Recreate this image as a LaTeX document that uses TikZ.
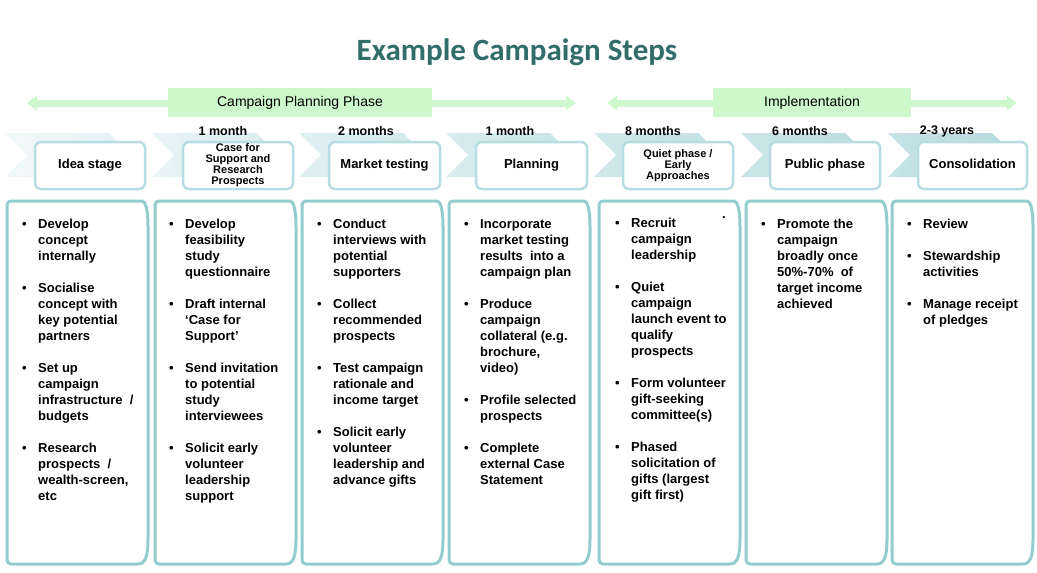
\documentclass[tikz,border=0pt]{standalone}
\usepackage{fontspec}
\setmainfont{Liberation Sans}
\newfontfamily\titlefont{Carlito}
\usetikzlibrary{arrows.meta}
\definecolor{titlec}{RGB}{49,110,106}
\definecolor{panelc}{RGB}{147,204,204}
\definecolor{boxc}{RGB}{183,221,226}
\definecolor{chev}{RGB}{176,216,220}
\definecolor{phasec}{RGB}{204,248,204}
\tikzset{
  stepbox/.style={draw=boxc, line width=2.5pt, rounded corners=6pt, fill=white,
    minimum width=110pt, minimum height=47pt, align=center, inner sep=1pt,
    text height=9.5pt, text depth=2.8pt,
    font=\bfseries\fontsize{13}{15}\selectfont},
  smallstep/.style={stepbox, text height={}, text depth={},
    font=\bfseries\fontsize{11}{11}\selectfont},
  dur/.style={font=\bfseries\fontsize{12.5}{14}\selectfont, inner sep=0pt},
  panel/.style={draw=panelc, line width=3pt, fill=white},
  paneltext/.style={anchor=north west, inner sep=0pt, align=left,
    font=\bfseries\fontsize{13}{16}\selectfont},
  phasearrow/.style={draw=phasec, line width=7pt,
    arrows={Triangle[length=10pt,width=14pt]-Triangle[length=10pt,width=14pt]}},
  phaselabel/.style={fill=phasec, minimum height=29pt, inner sep=0pt,
    font=\fontsize{14}{16}\selectfont},
}
\newcommand{\bl}{\textbullet}
\begin{document}
\begin{tikzpicture}[x=1pt,y=-1pt]
\useasboundingbox (0,0) rectangle (1037,573);
\fill[white] (0,0) rectangle (1037,573);

% title
\node[font=\titlefont\bfseries\fontsize{31}{34}\selectfont, text=titlec] (title) at (517,52) {Example Campaign Steps};

% phase arrows
\coordinate (p1l) at (27,103);
\coordinate (p1r) at (576,103);
\coordinate (p2l) at (607,103);
\coordinate (p2r) at (1017,103);
\draw[phasearrow] (p1l) -- (p1r);
\draw[phasearrow] (p2l) -- (p2r);
\node[phaselabel, minimum width=264pt] (ph1) at (300,102.5) {Campaign Planning Phase};
\node[phaselabel, minimum width=198pt] (ph2) at (812,102.5) {Implementation};

% chevrons
\foreach \L/\p in {5/30,152/42,299/52,446/62,594/72,741/80,888/86} {
  \pgfmathtruncatemacro\pa{\p-14}
  \pgfmathtruncatemacro\pb{\p+6}
  \shade[left color=chev!\pa!white, right color=chev!\pb!white]
    (\L,133) -- ++(104,0) -- ++(22,22) -- ++(-22,22) -- ++(-104,0) -- ++(22,-22) -- cycle;
}

% durations
\node[dur] (d2) at (223,131) {1 month};
\node[dur] (d3) at (366,131) {2 months};
\node[dur] (d4) at (510,131) {1 month};
\node[dur] (d5) at (653,131) {8 months};
\node[dur] (d6) at (800,131) {6 months};
\node[dur] (d7) at (947,131) {2-3 years};

% step boxes
\node[stepbox] (s1) at (90,165.5) {Idea stage};
\node[smallstep] (s2) at (238,165.5) {Case for\\Support and\\Research\\Prospects};
\node[stepbox, minimum width=111pt] (s3) at (384.5,165.5) {Market testing};
\node[stepbox, minimum width=111pt] (s4) at (531.5,165.5) {Planning};
\node[smallstep] (s5) at (678,165.5) {Quiet phase /\\Early\\Approaches};
\node[stepbox] (s6) at (825,165.5) {Public phase};
\node[stepbox, minimum width=109pt] (s7) at (972.5,165.5) {Consolidation};

% panels
\foreach \L/\R in {7/148,155/296,302/443,449/590,599/740,746/887,892/1033} {
  \draw[panel] (\L,215) [rounded corners=4pt] -- (\L,201) -- (\R-10,201) [sharp corners]
    .. controls (\R-3,201) and (\R,208) .. (\R,226) -- (\R,539)
    .. controls (\R,557) and (\R-3,564) .. (\R-10,564) [rounded corners=4pt] -- (\L,564) -- cycle;
}

% panel texts
\node[paneltext] (t1) at (22,217.5) {\begin{tabular}{@{}p{16pt}@{}l@{}}
\bl & Develop\\ & concept\\ & internally\\ & \\
\bl & Socialise\\ & concept with\\ & key potential\\ & partners\\ & \\
\bl & Set up\\ & campaign\\ & infrastructure\ \ /\\ & budgets\\ & \\
\bl & Research\\ & prospects\ \ /\\ & wealth-screen,\\ & etc
\end{tabular}};

\node[paneltext] (t2) at (169,217.5) {\begin{tabular}{@{}p{16pt}@{}l@{}}
\bl & Develop\\ & feasibility\\ & study\\ & questionnaire\\ & \\
\bl & Draft internal\\ & ‘Case for\\ & Support’\\ & \\
\bl & Send invitation\\ & to potential\\ & study\\ & interviewees\\ & \\
\bl & Solicit early\\ & volunteer\\ & leadership\\ & support
\end{tabular}};

\node[paneltext] (t3) at (317,217.5) {\begin{tabular}{@{}p{16pt}@{}l@{}}
\bl & Conduct\\ & interviews with\\ & potential\\ & supporters\\ & \\
\bl & Collect\\ & recommended\\ & prospects\\ & \\
\bl & Test campaign\\ & rationale and\\ & income target\\ & \\
\bl & Solicit early\\ & volunteer\\ & leadership and\\ & advance gifts
\end{tabular}};

\node[paneltext] (t4) at (464,217.5) {\begin{tabular}{@{}p{16pt}@{}l@{}}
\bl & Incorporate\\ & market testing\\ & results\ \ into a\\ & campaign plan\\ & \\
\bl & Produce\\ & campaign\\ & collateral (e.g.\\ & brochure,\\ & video)\\ & \\
\bl & Profile selected\\ & prospects\\ & \\
\bl & Complete\\ & external Case\\ & Statement
\end{tabular}};

\node[paneltext] (t5) at (615,216.5) {\begin{tabular}{@{}p{16pt}@{}l@{}}
\bl & Recruit\\ & campaign\\ & leadership\\ & \\
\bl & Quiet\\ & campaign\\ & launch event to\\ & qualify\\ & prospects\\ & \\
\bl & Form volunteer\\ & gift-seeking\\ & committee(s)\\ & \\
\bl & Phased\\ & solicitation of\\ & gifts (largest\\ & gift first)
\end{tabular}};
\node[anchor=base, inner sep=0pt, font=\bfseries\fontsize{13}{16}\selectfont] (stray) at (724,218) {.};

\node[paneltext] (t6) at (761,217.5) {\begin{tabular}{@{}p{16pt}@{}l@{}}
\bl & Promote the\\ & campaign\\ & broadly once\\ & 50\%-70\%\ \ of\\ & target income\\ & achieved
\end{tabular}};

\node[paneltext] (t7) at (907,217.5) {\begin{tabular}{@{}p{16pt}@{}l@{}}
\bl & Review\\ & \\
\bl & Stewardship\\ & activities\\ & \\
\bl & Manage receipt\\ & of pledges
\end{tabular}};
\end{tikzpicture}
\end{document}
